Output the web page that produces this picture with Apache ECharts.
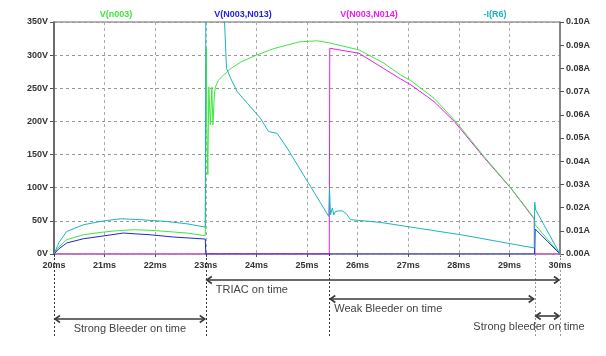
<!DOCTYPE html>
<html><head><meta charset="utf-8">
<script src="https://cdn.jsdelivr.net/npm/echarts@6/dist/echarts.min.js"></script>
<style>html,body{margin:0;padding:0;background:#fff}#c{width:606px;height:356px}</style>
</head><body><div id="c"></div>
<script>
// ---- Data ----
const seriesNames = ['V(n003)', 'V(N003,N013)', 'V(N003,N014)', '-I(R6)'];
const seriesColors = ['#3fe63f', '#2424dc', '#ee1cee', '#1cb4bc'];

// time axis (ms)
const timeMin = 20, timeMax = 30, timeStep = 1;
const voltMin = 0, voltMax = 350, voltStep = 50;
const ampMin = 0, ampMax = 0.1, ampStep = 0.01;

// V(n003) [V]
const greenTime = [20.0, 20.1, 20.25, 20.58, 20.91, 21.3, 21.57, 21.9, 22.23, 22.63, 22.99, 23.0, 23.01, 23.02, 23.04, 23.06, 23.09, 23.12, 23.14, 23.17, 23.19, 23.25, 23.35, 23.5, 23.7, 24.0, 24.35, 24.85, 25.2, 25.43, 25.45, 26.03, 26.52, 26.85, 27.05, 27.51, 27.91, 28.02, 28.5, 29.03, 29.49, 29.5, 29.51, 30.0];
const greenVolts = [0, 11, 21.5, 29, 32.5, 35.5, 36.6, 35.8, 34, 31.6, 27.6, 27.6, 310, 200, 120, 252, 195, 252, 195, 240, 252, 262, 270, 280, 290, 300, 310, 320, 321.7, 318.7, 317.5, 307.8, 287.8, 270, 261.6, 235, 202.3, 192.3, 147, 99.4, 54, 51.7, 44, 0];

// V(N003,N013) [V]
const blueTime = [20.0, 20.1, 20.25, 20.58, 20.91, 21.37, 21.9, 22.36, 22.99, 23.0, 29.5, 29.51, 30.0];
const blueVolts = [0, 8, 16.6, 23, 26.5, 31.6, 29, 25.6, 22.6, 0, 0, 37.7, 0];

// V(N003,N014) [V]
const magentaTime = [20.0, 25.44, 25.45, 26.03, 26.85, 27.05, 27.51, 27.91, 28.5, 29.03, 29.49, 29.5, 30.0];
const magentaVolts = [0, 0, 310.4, 302.8, 264, 255.3, 230, 200, 145.5, 99, 53, 0, 0];

// -I(R6) [A]
const cyanTime = [20.0, 20.1, 20.25, 20.58, 20.91, 21.31, 21.7, 22.23, 22.63, 22.99, 23.0, 23.005, 23.35, 23.37, 23.39, 23.41, 23.49, 23.62, 23.82, 24.08, 24.24, 24.41, 24.61, 24.81, 25.07, 25.43, 25.445, 25.465, 25.5, 25.53, 25.56, 25.63, 25.7, 25.78, 25.86, 26.46, 27.05, 28.04, 29.03, 29.49, 29.5, 29.52, 30.0];
const cyanAmps = [0, 0.005, 0.0097, 0.0126, 0.014, 0.0152, 0.0148, 0.014, 0.013, 0.0116, 0.0116, 0.15, 0.15, 0.1, 0.09, 0.08, 0.0758, 0.07, 0.065, 0.0585, 0.0528, 0.052, 0.0456, 0.0384, 0.0291, 0.0162, 0.0284, 0.0169, 0.0198, 0.0169, 0.0183, 0.0186, 0.0186, 0.0173, 0.0148, 0.0136, 0.0116, 0.0083, 0.0044, 0.0026, 0.0224, 0.019, 0];

// annotations (ms)
const markerTimes = [20, 23, 25.44, 29.5, 30];
const annoLabels = ['TRIAC on time', 'Weak Bleeder on time', 'Strong Bleeder on time', 'Strong bleeder on time'];
const annoStart = [23, 25.44, 20, 29.5];
const annoEnd = [30, 29.5, 23, 30];

// ---- Chart ----
const zip = (a, b) => a.map((t, i) => [t, b[i]]);
const chart = echarts.init(document.getElementById('c'), null, { renderer: 'canvas' });
const lblFont = { fontFamily: '"Liberation Sans", Arial, sans-serif', fontWeight: 'bold', fontSize: 9, color: '#333' };

function mkSeries(idx, data, yIdx, z) {
  return {
    name: seriesNames[idx], type: 'line', data: data, yAxisIndex: yIdx,
    showSymbol: false, symbol: 'none', clip: true, animation: false, z: z,
    lineStyle: { color: seriesColors[idx], width: 1 }, itemStyle: { color: seriesColors[idx] }
  };
}

chart.setOption({
  animation: false,
  backgroundColor: '#fff',
  grid: { left: 54, right: 46, top: 22, height: 232, show: true, borderColor: '#666', borderWidth: 1, backgroundColor: 'transparent' },
  xAxis: {
    type: 'value', min: timeMin, max: timeMax, interval: timeStep,
    axisLine: { show: false },
    axisTick: { show: true, length: 3, lineStyle: { color: '#555' } },
    axisLabel: Object.assign({ margin: 7, formatter: v => v + 'ms' }, lblFont),
    splitLine: { show: true, lineStyle: { color: '#aaa', type: [3, 3], width: 1 } }
  },
  yAxis: [{
    type: 'value', min: voltMin, max: voltMax, interval: voltStep, position: 'left',
    axisLine: { show: true, lineStyle: { color: '#555', width: 1.5 } },
    axisTick: { show: true, length: 4, lineStyle: { color: '#555' } },
    axisLabel: Object.assign({ margin: 6, formatter: v => v + 'V' }, lblFont),
    splitLine: { show: true, lineStyle: { color: '#999', type: [3, 3], width: 1 } }
  }, {
    type: 'value', min: ampMin, max: ampMax, interval: ampStep, position: 'right',
    axisLine: { show: true, lineStyle: { color: '#777', width: 1.5 } },
    axisTick: { show: true, length: 4, lineStyle: { color: '#555' } },
    axisLabel: Object.assign({ margin: 6, formatter: v => v.toFixed(2) + 'A' }, lblFont),
    splitLine: { show: false }
  }],
  series: [
    mkSeries(0, zip(greenTime, greenVolts), 0, 3),
    mkSeries(2, zip(magentaTime, magentaVolts), 0, 2),
    mkSeries(1, zip(blueTime, blueVolts), 0, 4),
    mkSeries(3, zip(cyanTime, cyanAmps), 1, 5)
  ]
});

// ---- Header labels and annotations ----
const px = t => chart.convertToPixel({ xAxisIndex: 0 }, t);
const yBase = chart.convertToPixel({ yAxisIndex: 0 }, 0);
const g = [];
const hdrX = [116, 243, 369, 495];
seriesNames.forEach((n, i) => {
  g.push({ type: 'text', x: hdrX[i], y: 15, silent: true,
    style: { text: n, fill: seriesColors[i], font: 'bold 9px "Liberation Sans", Arial, sans-serif', textAlign: 'center', textVerticalAlign: 'middle' } });
});
markerTimes.forEach((t, i) => {
  const x = Math.round(px(t)) + 0.5;
  g.push({ type: 'line', silent: true, z: 10,
    shape: { x1: x, y1: yBase, x2: x, y2: 338 },
    style: { stroke: i >= 3 ? '#999' : '#333', lineWidth: 1, lineDash: [2, 2] } });
});
const annoY = [280, 299, 319, 316];
function arrow(x1, x2, y) {
  const c = '#3a3a3a', h = 6, v = 3.5;
  g.push({ type: 'line', silent: true, z: 11, shape: { x1: x1 + 1, y1: y, x2: x2 - 1, y2: y }, style: { stroke: c, lineWidth: 1.6 } });
  g.push({ type: 'polyline', silent: true, z: 11, shape: { points: [[x1 + h, y - v], [x1 + 1, y], [x1 + h, y + v]] }, style: { stroke: c, lineWidth: 1.6, fill: null } });
  g.push({ type: 'polyline', silent: true, z: 11, shape: { points: [[x2 - h, y - v], [x2 - 1, y], [x2 - h, y + v]] }, style: { stroke: c, lineWidth: 1.6, fill: null } });
}
annoLabels.forEach((lab, i) => {
  const x1 = px(annoStart[i]), x2 = px(annoEnd[i]);
  arrow(x1, x2, annoY[i]);
});
const txtFont = '11px "Liberation Sans", Arial, sans-serif';
const annoTextPos = [
  [px(annoStart[0]) + 10, 289.5, 'left'],
  [px(annoStart[1]) + 5, 308.5, 'left'],
  [(px(annoStart[2]) + px(annoEnd[2])) / 2, 328.5, 'center'],
  [529, 327, 'center']
];
annoLabels.forEach((lab, i) => {
  const p = annoTextPos[i];
  g.push({ type: 'text', x: p[0], y: p[1], silent: true, z: 12,
    style: { text: lab, fill: '#444', font: txtFont, textAlign: p[2], textVerticalAlign: 'middle' } });
});
chart.setOption({ graphic: g });
</script>
</body></html>
